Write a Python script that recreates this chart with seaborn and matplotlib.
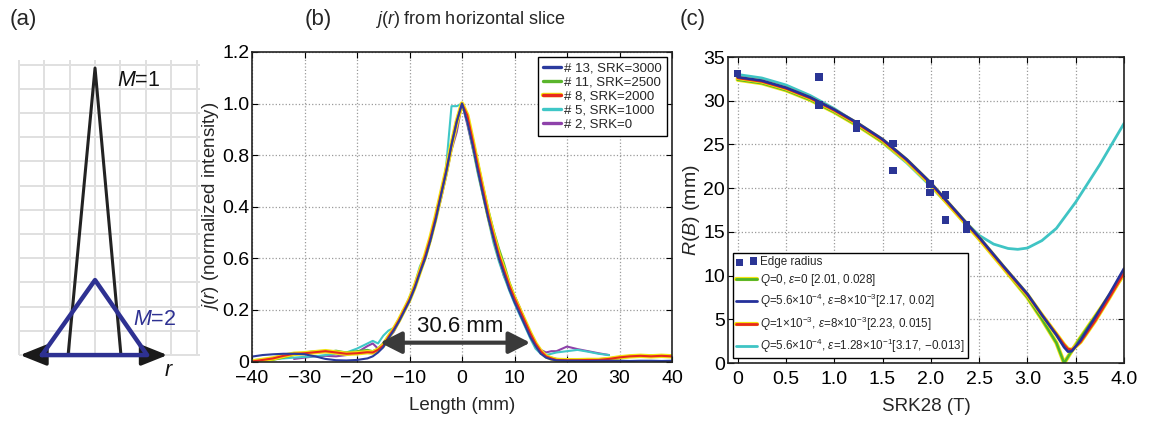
import numpy as np
import pandas as pd
import matplotlib
matplotlib.use('Agg')
import matplotlib.pyplot as plt
import matplotlib.patheffects as pe
import seaborn as sns

# ---------------- panel (a): schematic ----------------
A_GRID_R = [-3, -2, -1, 0, 1, 2, 3, 4]
A_GRID_H = [0, 1, 2, 3, 4, 5, 6, 7, 8, 9, 10, 11, 12]
A_M1_R = [-1.06, 0.0, 1.02]
A_M1_H = [0.0, 11.86, 0.0]
A_M2_R = [-2.09, 0.0, 2.05, -2.09]
A_M2_H = [0.0, 3.1, 0.0, 0.0]
A_AXIS_R = [-2.95, 2.85]

# ---------------- panel (b): j(r) profiles ----------------
B_X = [-40, -38, -36, -34, -32, -30, -28, -26, -24, -22, -20, -18,
       -17, -16, -15, -14, -13, -12, -11, -10, -9, -8, -7, -6, -5, -4, -3, -2, -1, 0,
       1, 2, 3, 4, 5, 6, 7, 8, 9, 10, 11, 12, 13, 14, 15, 16, 17,
       18, 20, 22, 24, 26, 28, 30, 32, 34, 36, 38, 40]
nan = float('nan')
B_S13 = ([0.019, 0.025, 0.028, 0.030, 0.030, 0.028, 0.020, 0.010, 0.005, 0.004, 0.006, 0.012]
         + [0.02, 0.035, 0.055, 0.09, 0.12, 0.155, 0.195, 0.235, 0.285, 0.345, 0.40, 0.47, 0.55,
            0.645, 0.735, 0.84, 0.93, 1.0]
         + [0.93, 0.84, 0.74, 0.645, 0.555, 0.475, 0.40, 0.34, 0.28, 0.23, 0.185, 0.14, 0.095,
            0.06, 0.03, 0.015, 0.008]
         + [0.004, 0.003, 0.003, 0.002, 0.003, 0.003, 0.003, 0.002, 0.003, 0.003, 0.002, 0.003])
B_S11 = ([0.000, 0.002, 0.006, 0.015, 0.025, 0.035, 0.040, 0.036, 0.042, 0.035, 0.040, 0.045]
         + [0.04, 0.05, 0.07, 0.10, 0.13, 0.165, 0.205, 0.245, 0.29, 0.345, 0.41, 0.485, 0.565,
            0.655, 0.745, 0.845, 0.935, 1.0]
         + [0.955, 0.87, 0.775, 0.68, 0.59, 0.51, 0.44, 0.38, 0.31, 0.255, 0.205, 0.16, 0.115,
            0.075, 0.04, 0.022, 0.015]
         + [0.010, 0.008, 0.008, 0.007, 0.009, 0.012, 0.018, 0.022, 0.020, 0.024, 0.022, 0.025])
B_S8 = ([0.000, 0.006, 0.012, 0.022, 0.030, 0.032, 0.036, 0.040, 0.035, 0.030, 0.032, 0.036]
        + [0.035, 0.045, 0.062, 0.095, 0.125, 0.16, 0.20, 0.24, 0.29, 0.35, 0.41, 0.48, 0.56,
           0.65, 0.74, 0.84, 0.93, 1.0]
        + [0.955, 0.86, 0.76, 0.665, 0.57, 0.49, 0.415, 0.355, 0.295, 0.245, 0.2, 0.155, 0.11,
           0.07, 0.04, 0.02, 0.012]
        + [0.006, 0.005, 0.005, 0.006, 0.006, 0.010, 0.016, 0.020, 0.022, 0.020, 0.022, 0.020])
B_S5 = ([0.005, 0.008, 0.010, 0.012, 0.015, 0.018, 0.020, 0.025, 0.030, 0.035, 0.050, 0.070]
        + [0.08, 0.07, 0.10, 0.12, 0.13, 0.165, 0.20, 0.25, 0.30, 0.37, 0.41, 0.47, 0.55,
           0.64, 0.76, 0.99, 0.99, 1.0]
        + [0.93, 0.83, 0.73, 0.64, 0.55, 0.46, 0.39, 0.33, 0.275, 0.225, 0.18, 0.135, 0.09,
           0.05, 0.03, 0.025, 0.03]
        + [0.035, 0.040, 0.045, 0.038, 0.030, 0.025, nan, nan, nan, nan, nan, nan])
B_S2 = ([nan, nan, nan, nan, 0.010, 0.015, 0.020, 0.022, 0.020, 0.025, 0.035, 0.060]
        + [0.07, 0.05, 0.07, 0.09, 0.115, 0.155, 0.195, 0.235, 0.285, 0.345, 0.40, 0.47, 0.55,
           0.63, 0.72, 0.82, 0.89, 1.0]
        + [0.92, 0.83, 0.75, 0.65, 0.56, 0.47, 0.40, 0.33, 0.29, 0.255, 0.21, 0.16, 0.11,
           0.07, 0.045, 0.035, 0.04]
        + [0.040, 0.058, 0.048, 0.040, 0.032, 0.025, nan, nan, nan, nan, nan, nan])
B_LABELS = ['# 13, SRK=3000', '# 11, SRK=2500', '# 8, SRK=2000', '# 5, SRK=1000', '# 2, SRK=0']
B_XTICKS = [-40, -30, -20, -10, 0, 10, 20, 30, 40]
B_YTICKS = [0, 0.2, 0.4, 0.6, 0.8, 1.0, 1.2]
B_YTICKLABELS = ['0', '0.2', '0.6', '0.4', '0.8', '1.0', '1.2']   # as printed in the source figure
B_FWHM = [-15.6, 13.0]
B_FWHM_Y = 0.073
B_FWHM_TEXT = '30.6 mm'

# ---------------- panel (c): R(B) ----------------
C_PTS_X = [0.0, 0.84, 0.84, 1.23, 1.23, 1.61, 1.61, 1.99, 1.99, 2.15, 2.15, 2.37, 2.37]
C_PTS_Y = [33.1, 32.7, 29.5, 27.4, 26.8, 25.1, 22.0, 20.5, 19.5, 19.25, 16.35, 15.75, 15.3]
C_X = [0, 0.25, 0.5, 0.75, 1.0, 1.25, 1.5, 1.75, 2.0, 2.25, 2.5, 2.75, 3.0, 3.15, 3.3,
       3.38, 3.42, 3.46, 3.55, 3.7, 3.85, 4.0]
C_GREEN = [32.4, 32.0, 31.2, 30.1, 28.7, 27.1, 25.3, 23.1, 20.4, 17.3, 14.2, 10.9, 7.5, 5.0, 2.3,
           0.0, 0.7, 1.4, 2.9, 5.3, 7.7, 10.2]
C_BLUE = [32.7, 32.3, 31.5, 30.4, 29.0, 27.4, 25.6, 23.3, 20.6, 17.5, 14.4, 11.1, 7.9, 5.5, 3.2,
          1.8, 1.3, 1.35, 2.6, 5.2, 7.9, 10.8]
C_RED = [32.6, 32.2, 31.4, 30.3, 28.9, 27.3, 25.5, 23.2, 20.5, 17.4, 14.3, 11.0, 7.8, 5.5, 3.3,
         2.1, 1.6, 1.5, 2.4, 4.8, 7.5, 10.3]
C_CYAN_X = [0, 0.25, 0.5, 0.75, 1.0, 1.25, 1.5, 1.75, 2.0, 2.25, 2.5, 2.65, 2.8, 2.9, 3.0,
            3.15, 3.3, 3.5, 3.75, 4.0]
C_CYAN = [33.0, 32.6, 31.8, 30.6, 29.1, 27.3, 25.2, 22.9, 20.2, 17.3, 14.6, 13.6, 13.1, 13.0,
          13.15, 14.0, 15.4, 18.4, 22.7, 27.4]
C_LABELS = ['Edge radius',
            r'$Q$=0, $\varepsilon$=0 [2.01, 0.028]',
            r'$Q$=5.6$\times$10$^{-4}$, $\varepsilon$=8$\times$10$^{-3}$[2.17, 0.02]',
            r'$Q$=1$\times$10$^{-3}$, $\varepsilon$=8$\times$10$^{-3}$[2.23, 0.015]',
            r'$Q$=5.6$\times$10$^{-4}$, $\varepsilon$=1.28$\times$10$^{-1}$[3.17, −0.013]']
C_XTICKS = [0, 0.5, 1.0, 1.5, 2.0, 2.5, 3.0, 3.5, 4.0]
C_XTICKLABELS = ['0', '0.5', '1.0', '1.5', '2.0', '2.5', '3.0', '3.5', '4.0']
C_YTICKS = [0, 5, 10, 15, 20, 25, 30, 35]

# ---------------- style ----------------
sns.set_style('ticks')
plt.rcParams['font.family'] = ['Liberation Sans', 'DejaVu Sans']
plt.rcParams['mathtext.fontset'] = 'custom'
plt.rcParams['mathtext.rm'] = 'Liberation Sans'
plt.rcParams['mathtext.it'] = 'Liberation Sans:italic'
plt.rcParams['mathtext.bf'] = 'Liberation Sans:bold'
plt.rcParams['axes.unicode_minus'] = True

W, H = 1149, 422
fig = plt.figure(figsize=(W / 100, H / 100), dpi=100)
fig.patch.set_facecolor('white')


def px_rect(l, t, r, b):
    return [l / W, 1 - b / H, (r - l) / W, (b - t) / H]


axA = fig.add_axes(px_rect(15, 55, 202, 380))
axB = fig.add_axes(px_rect(252, 52, 672, 361.5))
axC = fig.add_axes(px_rect(728, 57, 1124, 363))

YELLOW = '#f2e40f'
COL_B = {'13': '#2a3a9e', '11': '#5ab52c', '8': '#e8281c', '5': '#3fc7c7', '2': '#8e42aa'}

# ---- panel (a) ----
axA.vlines(A_GRID_R, 0, 12.2, color='#e0e0e0', lw=1.4, zorder=0)
axA.hlines(A_GRID_H, -3, 4.15, color='#e0e0e0', lw=1.4, zorder=0)
sns.lineplot(x=A_M1_R, y=A_M1_H, sort=False, estimator=None, color='#222222', lw=2.2,
             ax=axA, zorder=3)
axA.annotate('', xy=(A_AXIS_R[1], 0), xytext=(A_AXIS_R[0], 0),
             arrowprops=dict(arrowstyle='<|-|>,head_length=0.8,head_width=0.32', lw=2.5,
                             color='#1a1a1a', shrinkA=0, shrinkB=0, mutation_scale=20),
             zorder=2)
sns.lineplot(x=A_M2_R, y=A_M2_H, sort=False, estimator=None, color='#2e3192', lw=3.2,
             ax=axA, zorder=4)
axA.text(0.87, 11.36, '$M$=1', fontsize=15.5, ha='left', va='center', color='#111111')
axA.text(1.5, 1.45, '$M$=2', fontsize=15.5, ha='left', va='center', color='#2e3192')
axA.text(2.72, -0.62, '$r$', fontsize=15.5, ha='left', va='center', color='#111111')
axA.set_xlim(-3.15, 4.21)
axA.set_ylim(-1.03, 12.4)
axA.axis('off')

# ---- panel (b) ----
series_b = [('2', B_S2, B_LABELS[4]), ('5', B_S5, B_LABELS[3]), ('11', B_S11, B_LABELS[1]),
            ('8', B_S8, B_LABELS[2]), ('13', B_S13, B_LABELS[0])]
for key, vals, lab in series_b:
    df = pd.DataFrame({'x': B_X, 'y': vals}).dropna()
    kw = {}
    if key == '8':
        kw['path_effects'] = [pe.Stroke(linewidth=3.2, foreground=YELLOW), pe.Normal()]
    sns.lineplot(data=df, x='x', y='y', color=COL_B[key], lw=1.5, ax=axB, label=lab,
                 estimator=None, **kw)
h, l = axB.get_legend_handles_labels()
lab2h = dict(zip(l, h))
legB = axB.legend([lab2h[t] for t in B_LABELS], B_LABELS, loc='upper right', fontsize=9.5,
                  frameon=True, fancybox=False, framealpha=1, edgecolor='black',
                  borderaxespad=0.4, handlelength=1.4, handletextpad=0.25,
                  labelspacing=0.15, borderpad=0.35)
legB.get_frame().set_linewidth(1.0)
for ln in legB.get_lines():
    ln.set_linewidth(2.4)

axB.annotate('', xy=(B_FWHM[1], B_FWHM_Y), xytext=(B_FWHM[0], B_FWHM_Y),
             arrowprops=dict(arrowstyle='<|-|>,head_length=0.65,head_width=0.33', lw=3,
                             color='#3a3a3a', shrinkA=0, shrinkB=0, mutation_scale=20),
             zorder=6)
axB.text(-0.4, 0.134, B_FWHM_TEXT, fontsize=16, ha='center', va='center', color='#111111',
         zorder=7)

axB.set_xlim(-40, 40)
axB.set_ylim(0, 1.2)
axB.set_xticks(B_XTICKS)
axB.set_yticks(B_YTICKS)
axB.set_yticklabels(B_YTICKLABELS)
axB.set_xlabel('Length (mm)', fontsize=13.5, labelpad=7)
axB.set_ylabel('$j$($r$) (normalized intensity)', fontsize=13.5, labelpad=1)

# ---- panel (c) ----
sns.lineplot(x=C_CYAN_X, y=C_CYAN, color='#3fc4c4', lw=2.0, ax=axC, label=C_LABELS[4],
             estimator=None, sort=False)
sns.lineplot(x=C_X, y=C_GREEN, color='#4db32a', lw=1.8, ax=axC, label=C_LABELS[1],
             estimator=None, sort=False,
             path_effects=[pe.Stroke(linewidth=3.0, foreground=YELLOW), pe.Normal()])
sns.lineplot(x=C_X, y=C_RED, color='#e8281c', lw=1.8, ax=axC, label=C_LABELS[3],
             estimator=None, sort=False,
             path_effects=[pe.Stroke(linewidth=3.0, foreground=YELLOW), pe.Normal()])
sns.lineplot(x=C_X, y=C_BLUE, color='#24309a', lw=1.9, ax=axC, label=C_LABELS[2],
             estimator=None, sort=False)
sns.scatterplot(x=C_PTS_X, y=C_PTS_Y, marker='s', s=30, color='#2b3595', edgecolor='none',
                ax=axC, label=C_LABELS[0], zorder=8)
h, l = axC.get_legend_handles_labels()
lab2h = dict(zip(l, h))
legC = axC.legend([lab2h[t] for t in C_LABELS], C_LABELS, loc='lower left', fontsize=8.4,
                  frameon=True, fancybox=False, framealpha=1, edgecolor='black',
                  borderaxespad=0.4, handlelength=1.8, handletextpad=0.25,
                  labelspacing=0.34, borderpad=0.3, scatterpoints=2)
legC.get_frame().set_linewidth(1.0)
for ln in legC.get_lines():
    ln.set_linewidth(2.0)

axC.set_xlim(-0.1, 4.0)
axC.set_ylim(0, 35)
axC.set_xticks(C_XTICKS)
axC.set_xticklabels(C_XTICKLABELS)
axC.set_yticks(C_YTICKS)
axC.set_xlabel('SRK28 (T)', fontsize=13.5, labelpad=7)
axC.set_ylabel('$R$($B$) (mm)', fontsize=14, labelpad=1)

for ax in (axB, axC):
    ax.grid(True, ls=':', color='#9a9a9a', lw=0.9)
    ax.set_axisbelow(True)
    ax.tick_params(direction='in', length=4, width=0.8, top=True, right=True,
                   labelsize=14, colors='black')
    ax.tick_params(axis='x', pad=6)
    ax.tick_params(axis='y', pad=2)
    for sp in ax.spines.values():
        sp.set_visible(True)
        sp.set_color('#222222')
        sp.set_linewidth(1.2)

# ---- panel labels and title ----
fig.text(10 / W, 1 - 19 / H, '(a)', fontsize=16, ha='left', va='center')
fig.text(305 / W, 1 - 19 / H, '(b)', fontsize=16, ha='left', va='center')
fig.text(680 / W, 1 - 19 / H, '(c)', fontsize=16, ha='left', va='center')
fig.text(470 / W, 1 - 19 / H, '$j$($r$) from horizontal slice', fontsize=13, ha='center',
         va='center')

fig.savefig('out.png', dpi=100, facecolor='white')
